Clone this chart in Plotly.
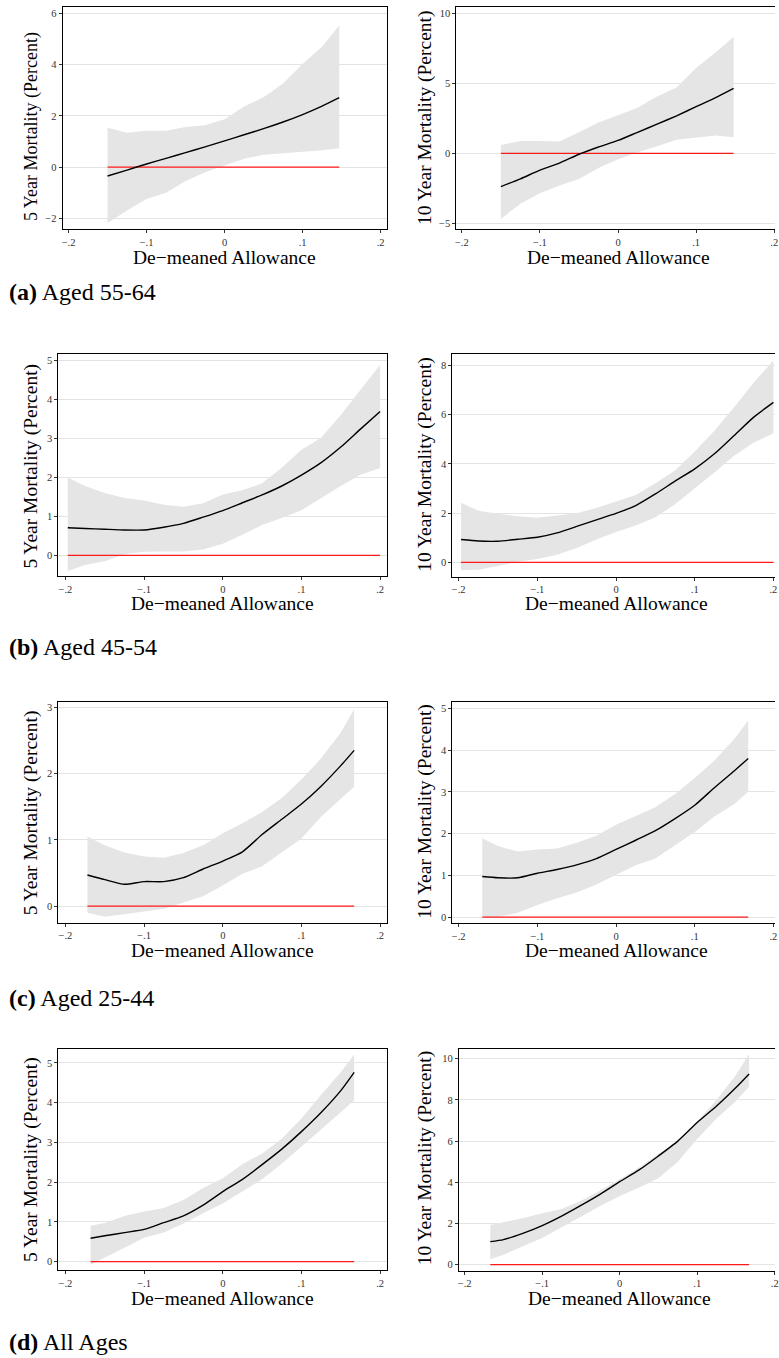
import plotly.graph_objects as go

W, H = 779, 1358

# ---------------- data ----------------
# Panel (a) Aged 55-64
X_A5 = [-0.15, -0.125, -0.1, -0.075, -0.05, -0.025, 0, 0.025, 0.05, 0.075, 0.1, 0.125, 0.147]
FIT_A5 = [-0.35, -0.12, 0.12, 0.34, 0.56, 0.79, 1.02, 1.26, 1.5, 1.76, 2.05, 2.38, 2.71]
HI_A5 = [1.53, 1.34, 1.42, 1.42, 1.56, 1.63, 1.87, 2.36, 2.73, 3.26, 4.02, 4.7, 5.53]
LO_A5 = [-2.19, -1.7, -1.25, -1.0, -0.55, -0.2, 0.05, 0.32, 0.48, 0.54, 0.6, 0.66, 0.73]

X_A10 = [-0.15, -0.125, -0.1, -0.075, -0.05, -0.025, 0, 0.025, 0.05, 0.075, 0.1, 0.125, 0.148]
FIT_A10 = [-2.38, -1.83, -1.2, -0.7, -0.07, 0.45, 0.92, 1.5, 2.08, 2.68, 3.33, 3.98, 4.64]
HI_A10 = [0.59, 0.88, 0.87, 0.85, 1.5, 2.2, 2.72, 3.25, 4.05, 4.7, 6.1, 7.2, 8.33]
LO_A10 = [-4.69, -3.6, -2.86, -2.3, -1.83, -1.05, -0.42, 0.07, 0.5, 0.97, 1.1, 1.28, 1.14]

# Panel (b) Aged 45-54
X_B5 = [-0.197, -0.175, -0.15, -0.125, -0.1, -0.075, -0.05, -0.025, 0, 0.025, 0.05, 0.075, 0.1, 0.125, 0.15, 0.175, 0.2]
FIT_B5 = [0.71, 0.69, 0.67, 0.65, 0.65, 0.72, 0.82, 0.98, 1.15, 1.35, 1.55, 1.78, 2.06, 2.38, 2.78, 3.24, 3.69]
HI_B5 = [2.0, 1.78, 1.6, 1.47, 1.41, 1.3, 1.25, 1.34, 1.56, 1.67, 1.85, 2.25, 2.71, 3.02, 3.6, 4.23, 4.89]
LO_B5 = [-0.4, -0.25, -0.15, 0.03, 0.09, 0.1, 0.1, 0.15, 0.3, 0.53, 0.78, 0.96, 1.16, 1.46, 1.78, 2.07, 2.24]

X_B10 = [-0.197, -0.175, -0.15, -0.125, -0.1, -0.075, -0.05, -0.025, 0, 0.025, 0.05, 0.075, 0.1, 0.125, 0.15, 0.175, 0.2]
FIT_B10 = [0.93, 0.87, 0.86, 0.94, 1.02, 1.2, 1.46, 1.73, 1.99, 2.31, 2.78, 3.3, 3.8, 4.41, 5.15, 5.9, 6.5]
HI_B10 = [2.42, 2.1, 1.98, 1.87, 1.81, 1.9, 2.0, 2.21, 2.46, 2.74, 3.21, 3.73, 4.5, 5.35, 6.3, 7.3, 8.2]
LO_B10 = [-0.31, -0.3, -0.15, 0.03, 0.14, 0.31, 0.59, 0.93, 1.23, 1.5, 1.83, 2.36, 3.0, 3.65, 4.33, 4.87, 5.24]

# Panel (c) Aged 25-44
X_C5 = [-0.172, -0.15, -0.125, -0.1, -0.075, -0.05, -0.025, 0, 0.025, 0.05, 0.075, 0.1, 0.125, 0.15, 0.167]
FIT_C5 = [0.47, 0.40, 0.33, 0.37, 0.37, 0.43, 0.56, 0.68, 0.82, 1.08, 1.31, 1.54, 1.81, 2.12, 2.35]
HI_C5 = [1.05, 0.92, 0.81, 0.75, 0.73, 0.8, 0.92, 1.1, 1.25, 1.42, 1.63, 1.91, 2.23, 2.62, 2.97]
LO_C5 = [-0.1, -0.16, -0.12, -0.08, -0.04, 0.05, 0.15, 0.31, 0.49, 0.6, 0.81, 1.02, 1.35, 1.62, 1.8]

X_C10 = [-0.17, -0.15, -0.125, -0.1, -0.075, -0.05, -0.025, 0, 0.025, 0.05, 0.075, 0.1, 0.125, 0.15, 0.168]
FIT_C10 = [0.97, 0.94, 0.94, 1.05, 1.14, 1.25, 1.4, 1.62, 1.84, 2.07, 2.36, 2.68, 3.1, 3.5, 3.8]
HI_C10 = [1.89, 1.70, 1.57, 1.62, 1.64, 1.78, 1.95, 2.21, 2.42, 2.63, 2.95, 3.33, 3.75, 4.26, 4.71]
LO_C10 = [0.01, 0.0, 0.1, 0.29, 0.45, 0.59, 0.78, 1.0, 1.24, 1.4, 1.73, 2.04, 2.41, 2.7, 3.0]

# Panel (d) All Ages
X_D5 = [-0.168, -0.15, -0.125, -0.1, -0.075, -0.05, -0.025, 0, 0.025, 0.05, 0.075, 0.1, 0.125, 0.15, 0.167]
FIT_D5 = [0.59, 0.65, 0.73, 0.81, 0.98, 1.15, 1.42, 1.76, 2.07, 2.44, 2.83, 3.27, 3.75, 4.3, 4.76]
HI_D5 = [0.9, 0.97, 1.15, 1.26, 1.35, 1.55, 1.85, 2.1, 2.45, 2.72, 3.09, 3.6, 4.2, 4.76, 5.21]
LO_D5 = [-0.08, 0.1, 0.35, 0.6, 0.73, 0.96, 1.22, 1.46, 1.76, 2.07, 2.46, 2.89, 3.32, 3.76, 4.06]

X_D10 = [-0.167, -0.15, -0.125, -0.1, -0.075, -0.05, -0.025, 0, 0.025, 0.05, 0.075, 0.1, 0.125, 0.15, 0.167]
FIT_D10 = [1.12, 1.22, 1.52, 1.9, 2.36, 2.88, 3.43, 4.03, 4.6, 5.28, 6.0, 6.9, 7.7, 8.6, 9.26]
HI_D10 = [1.93, 2.05, 2.26, 2.5, 2.7, 3.1, 3.6, 4.15, 4.72, 5.38, 5.92, 6.95, 8.0, 9.21, 10.23]
LO_D10 = [0.26, 0.48, 0.9, 1.3, 1.8, 2.34, 2.85, 3.33, 3.75, 4.2, 5.0, 6.1, 7.1, 7.95, 8.64]

# tick values and labels
X_TICKS = [-0.2, -0.1, 0, 0.1, 0.2]
X_TICK_TEXT = ["\u2212.2", "\u2212.1", "0", ".1", ".2"]
Y_TICKS_A5 = [-2, 0, 2, 4, 6]
Y_TICKS_A10 = [-5, 0, 5, 10]
Y_TICKS_B5 = [0, 1, 2, 3, 4, 5]
Y_TICKS_B10 = [0, 2, 4, 6, 8]
Y_TICKS_C5 = [0, 1, 2, 3]
Y_TICKS_C10 = [0, 1, 2, 3, 4, 5]
Y_TICKS_D5 = [0, 1, 2, 3, 4, 5]
Y_TICKS_D10 = [0, 2, 4, 6, 8, 10]

X_TITLE = "De\u2212meaned Allowance"
Y_TITLE_5 = "5 Year Mortality (Percent)"
Y_TITLE_10 = "10 Year Mortality (Percent)"

CAPTIONS = ["<b>(a)</b> Aged 55-64", "<b>(b)</b> Aged 45-54",
            "<b>(c)</b> Aged 25-44", "<b>(d)</b> All Ages"]

# ---------------- panel geometry (pixels) ----------------
# box = (left, top, right, bottom); full=False -> right frame runs off the page
panels = [
    dict(x=X_A5, fit=FIT_A5, hi=HI_A5, lo=LO_A5, yt=Y_TICKS_A5, ytitle=Y_TITLE_5,
         box=(62, 7, 388, 229), xr=(-0.2076, 0.2076), yr=(-2.42, 6.25), full=True,
         xt=(224.5, 257.5), ytp=(30.5, 126.7), ysize=18),
    dict(x=X_A10, fit=FIT_A10, hi=HI_A10, lo=LO_A10, yt=Y_TICKS_A10, ytitle=Y_TITLE_10,
         box=(458.3, 7.3, 779, 229.3), xr=(-0.207, 0.201), yr=(-5.43, 10.43), full=False,
         xt=(621.3, 257.5), ytp=(426.7, 118), ysize=19.5),
    dict(x=X_B5, fit=FIT_B5, hi=HI_B5, lo=LO_B5, yt=Y_TICKS_B5, ytitle=Y_TITLE_5,
         box=(57.7, 354.3, 388.3, 576), xr=(-0.209, 0.2085), yr=(-0.53, 5.16), full=True,
         xt=(222.7, 603), ytp=(30, 465.8), ysize=19.5),
    dict(x=X_B10, fit=FIT_B10, hi=HI_B10, lo=LO_B10, yt=Y_TICKS_B10, ytitle=Y_TITLE_10,
         box=(454.3, 354.3, 779, 576.7), xr=(-0.208, 0.202), yr=(-0.58, 8.45), full=False,
         xt=(619.3, 603.5), ytp=(426.7, 464.7), ysize=19.5),
    dict(x=X_C5, fit=FIT_C5, hi=HI_C5, lo=LO_C5, yt=Y_TICKS_C5, ytitle=Y_TITLE_5,
         box=(57.7, 701.7, 388.3, 922.7), xr=(-0.209, 0.2085), yr=(-0.25, 3.085), full=True,
         xt=(222.7, 951), ytp=(30, 812.5), ysize=19.5),
    dict(x=X_C10, fit=FIT_C10, hi=HI_C10, lo=LO_C10, yt=Y_TICKS_C10, ytitle=Y_TITLE_10,
         box=(454.3, 701.7, 779, 923.3), xr=(-0.208, 0.202), yr=(-0.15, 5.16), full=False,
         xt=(619.3, 950.5), ytp=(426.7, 811.7), ysize=19.5),
    dict(x=X_D5, fit=FIT_D5, hi=HI_D5, lo=LO_D5, yt=Y_TICKS_D5, ytitle=Y_TITLE_5,
         box=(57.7, 1049.3, 388.3, 1270), xr=(-0.209, 0.2085), yr=(-0.21, 5.34), full=True,
         xt=(222.7, 1298), ytp=(30, 1159.2), ysize=19.5),
    dict(x=X_D10, fit=FIT_D10, hi=HI_D10, lo=LO_D10, yt=Y_TICKS_D10, ytitle=Y_TITLE_10,
         box=(461, 1049, 779, 1270.7), xr=(-0.2073, 0.2004), yr=(-0.29, 10.47), full=False,
         xt=(622.7, 1298.5), ytp=(426.7, 1158.3), ysize=19.5),
]
CAPTION_POS = [(6, 292), (6, 646.5), (6, 998), (6, 1342)]

SERIF = "Liberation Serif, Times New Roman, serif"
BAND = "#e5e5e5"
GRID = "#e4e4e4"

fig = go.Figure()
layout = dict(
    width=W, height=H, margin=dict(l=0, r=0, t=0, b=0),
    paper_bgcolor="white", plot_bgcolor="white", showlegend=False,
    font=dict(family=SERIF, color="#222"),
)
annotations = []

for i, p in enumerate(panels, start=1):
    xa = "x" if i == 1 else f"x{i}"
    ya = "y" if i == 1 else f"y{i}"
    l, t, r, b = p["box"]

    # confidence band
    fig.add_trace(go.Scatter(
        x=p["x"] + p["x"][::-1], y=p["hi"] + p["lo"][::-1],
        fill="toself", fillcolor=BAND, line=dict(width=0),
        mode="lines", hoverinfo="skip", xaxis=xa, yaxis=ya))
    # zero reference
    fig.add_trace(go.Scatter(
        x=[p["x"][0], p["x"][-1]], y=[0, 0], mode="lines",
        line=dict(color="#ff1a1a", width=1.2), hoverinfo="skip",
        xaxis=xa, yaxis=ya))
    # fitted mortality
    fig.add_trace(go.Scatter(
        x=p["x"], y=p["fit"], mode="lines",
        line=dict(color="black", width=1.4, shape="spline", smoothing=0.6),
        xaxis=xa, yaxis=ya))

    xkey = "xaxis" if i == 1 else f"xaxis{i}"
    ykey = "yaxis" if i == 1 else f"yaxis{i}"
    layout[xkey] = dict(
        domain=[l / W, r / W], anchor=ya, range=list(p["xr"]),
        tickmode="array", tickvals=X_TICKS, ticktext=X_TICK_TEXT,
        ticks="outside", ticklen=3, tickwidth=1, tickcolor="#333",
        tickfont=dict(family=SERIF, size=10.5, color="#333"),
        ticklabeloverflow="allow",
        showgrid=False, zeroline=False,
        showline=True, linecolor="black", linewidth=1.2, mirror=True,
        fixedrange=True)
    layout[ykey] = dict(
        domain=[1 - b / H, 1 - t / H], anchor=xa, range=list(p["yr"]),
        tickmode="array", tickvals=p["yt"],
        ticks="outside", ticklen=3, tickwidth=1, tickcolor="#333",
        tickfont=dict(family=SERIF, size=10.5, color="#333"),
        showgrid=True, gridcolor=GRID, gridwidth=1.3, zeroline=False,
        showline=True, linecolor="black", linewidth=1.2,
        mirror=True if p["full"] else False,
        fixedrange=True)

    # axis titles
    annotations.append(dict(
        text=X_TITLE, xref="paper", yref="paper",
        x=p["xt"][0] / W, y=1 - p["xt"][1] / H,
        xanchor="center", yanchor="middle", showarrow=False,
        font=dict(family=SERIF, size=19.5, color="black")))
    annotations.append(dict(
        text=p["ytitle"], xref="paper", yref="paper",
        x=p["ytp"][0] / W, y=1 - p["ytp"][1] / H, textangle=-90,
        xanchor="center", yanchor="middle", showarrow=False,
        font=dict(family=SERIF, size=p["ysize"], color="black")))

for cap, (cx, cy) in zip(CAPTIONS, CAPTION_POS):
    annotations.append(dict(
        text=cap, xref="paper", yref="paper", x=cx / W, y=1 - cy / H,
        xanchor="left", yanchor="middle", showarrow=False,
        font=dict(family=SERIF, size=24, color="black")))

layout["annotations"] = annotations
fig.update_layout(**layout)
fig.write_html("out.html", config={"displayModeBar": False})
